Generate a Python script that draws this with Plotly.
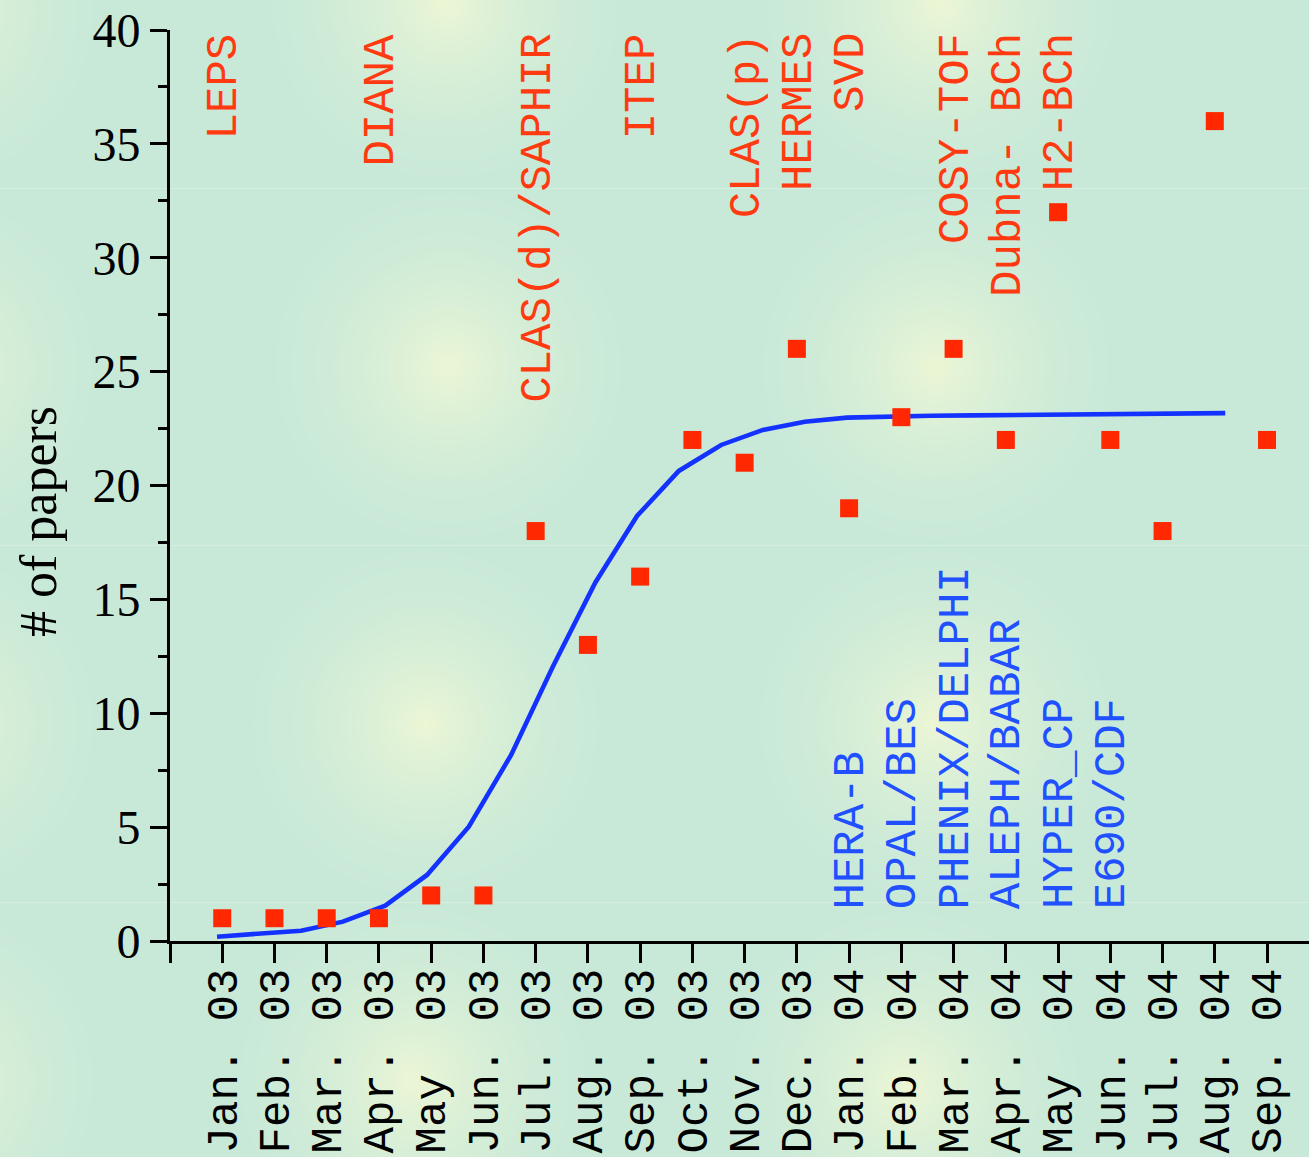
import base64, struct, zlib
import numpy as np
import plotly.graph_objects as go

# ---------------- data ----------------
months = ["Jan.", "Feb.", "Mar.", "Apr.", "May ", "Jun.", "Jul.", "Aug.", "Sep.", "Oct.", "Nov.", "Dec.",
          "Jan.", "Feb.", "Mar.", "Apr.", "May ", "Jun.", "Jul.", "Aug.", "Sep."]
years = ["03"] * 12 + ["04"] * 9
papers = [1, 1, 1, 1, 2, 2, 18, 13, 16, 22, 21, 26, 19, 23, 26, 22, 32, 22, 18, 36, 22]

fit_x = [0.90, 1.70, 2.51, 3.31, 4.12, 4.92, 5.72, 6.53, 7.33, 8.14, 8.94, 9.74, 10.55,
         11.35, 12.15, 12.96, 13.76, 14.57, 15.37, 16.17, 16.98, 17.78, 18.59, 19.39, 20.20]
fit_y = [0.19, 0.31, 0.45, 0.85, 1.55, 2.90, 5.02, 8.17, 12.05, 15.73, 18.66, 20.64, 21.78,
         22.44, 22.80, 22.98, 23.03, 23.06, 23.08, 23.10, 23.12, 23.13, 23.15, 23.16, 23.18]

red_labels = ["LEPS", "DIANA", "CLAS(d)/SAPHIR", "ITEP", "CLAS(p)", "HERMES", "SVD",
              "COSY-TOF", "Dubna- BCh", "H2-BCh"]
red_pos = [1, 4, 7, 9, 11, 12, 13, 15, 16, 17]
blue_labels = ["HERA-B", "OPAL/BES", "PHENIX/DELPHI", "ALEPH/BABAR", "HYPER_CP", "E690/CDF"]
blue_pos = [13, 14, 15, 16, 17, 18]

y_ticks = [0, 5, 10, 15, 20, 25, 30, 35, 40]

# ---------------- background ----------------
W, H = 1309, 1157
ML, MR, MT, MB = 170, 0, 30, 216
PW, PH = W - ML - MR, H - MT - MB

yy, xx = np.mgrid[0:H, 0:W].astype(float)
base = np.array([201, 233, 216], float)
yel = np.array([236, 246, 213], float)
centers = [(-80, 10), (445, 5), (940, 5),
           (-80, 366), (448, 366), (935, 366),
           (-80, 723), (425, 723), (933, 723),
           (-80, 1080), (413, 1080), (905, 1085)]
R = 190.0
t = np.zeros((H, W))
for cx, cy in centers:
    r = np.hypot(xx - cx, yy - cy)
    t = np.maximum(t, np.clip(1 - r / R, 0, 1))
t = t ** 1.8
img = base[None, None, :] + (yel - base)[None, None, :] * t[..., None]
for sy in (188, 545, 902):
    img[sy, :, :] = img[sy, :, :] * 0.6 + np.array([232, 246, 236]) * 0.4
img = np.clip(np.round(img), 0, 255).astype(np.int16)

filt = img.copy()
filt[1:] = (img[1:] - img[:-1]) % 256
filt = filt.astype(np.uint8).reshape(H, W * 3)
raw = b"".join(b"\x02" + filt[i].tobytes() for i in range(H))


def chunk(tag, data):
    c = tag + data
    return struct.pack(">I", len(data)) + c + struct.pack(">I", zlib.crc32(c) & 0xffffffff)


png = b"\x89PNG\r\n\x1a\n" + chunk(b"IHDR", struct.pack(">IIBBBBB", W, H, 8, 2, 0, 0, 0)) \
      + chunk(b"IDAT", zlib.compress(raw, 9)) + chunk(b"IEND", b"")
bg_src = "data:image/png;base64," + base64.b64encode(png).decode()

# ---------------- figure ----------------
xcat = list(range(1, len(months) + 1))
tickvals = [0] + xcat
ticktext = [""] + [f"{m} {y}" for m, y in zip(months, years)]

fig = go.Figure()
fig.add_trace(go.Scatter(x=fit_x, y=fit_y, mode="lines",
                         line=dict(color="#1432FF", width=4.6), hoverinfo="skip"))
fig.add_trace(go.Scatter(x=xcat, y=papers, mode="markers",
                         marker=dict(symbol="square", size=18, color="#FF2800",
                                     line=dict(width=0)), cliponaxis=False))

mono = "Liberation Mono, Courier New, monospace"
serif = "Liberation Serif, Times New Roman, serif"
FS = 44

annotations = []
for lab, p in zip(red_labels, red_pos):
    annotations.append(dict(x=p, y=39.95, xref="x", yref="y", text=lab, showarrow=False,
                            textangle=-90, xanchor="center", yanchor="top", xshift=2,
                            font=dict(family=mono, size=FS, color="#FF3A10")))
for lab, p in zip(blue_labels, blue_pos):
    annotations.append(dict(x=p, y=1.3, xref="x", yref="y", text=lab, showarrow=False,
                            textangle=-90, xanchor="center", yanchor="bottom", xshift=2,
                            font=dict(family=mono, size=FS, color="#2050FF")))
annotations.append(dict(x=-132 / PW, y=(PH - (522 - MT)) / PH, xref="paper", yref="paper",
                        text="# of papers", showarrow=False, textangle=-90,
                        xanchor="center", yanchor="middle",
                        font=dict(family=serif, size=52, color="black")))

fig.update_layout(
    width=W, height=H,
    margin=dict(l=ML, r=MR, t=MT, b=MB, pad=0),
    paper_bgcolor="rgb(201,233,216)",
    plot_bgcolor="rgba(0,0,0,0)",
    showlegend=False,
    annotations=annotations,
    images=[dict(source=bg_src, xref="paper", yref="paper",
                 x=-ML / PW, y=1 + MT / PH, sizex=W / PW, sizey=H / PH,
                 xanchor="left", yanchor="top", sizing="stretch", layer="below")],
    xaxis=dict(range=[0, PW / 52.24], tickmode="array", tickvals=tickvals, ticktext=ticktext,
               tickangle=-90, showgrid=False, zeroline=False,
               showline=True, linecolor="black", linewidth=3,
               ticks="outside", ticklen=19, tickwidth=3, tickcolor="black",
               ticklabelstandoff=-12,
               tickfont=dict(family=mono, size=FS, color="black")),
    yaxis=dict(range=[0, 40], tickmode="array", tickvals=y_ticks,
               showgrid=False, zeroline=False,
               showline=True, linecolor="black", linewidth=3,
               ticks="outside", ticklen=17, tickwidth=3, tickcolor="black",
               minor=dict(dtick=2.5, tick0=0, ticks="outside", ticklen=9, tickwidth=3,
                          tickcolor="black", showgrid=False),
               tickfont=dict(family=serif, size=48, color="black")),
)

fig.write_html("out.html", config={"displayModeBar": False},
               post_script="document.body.style.margin='0';document.body.style.overflow='hidden';")
